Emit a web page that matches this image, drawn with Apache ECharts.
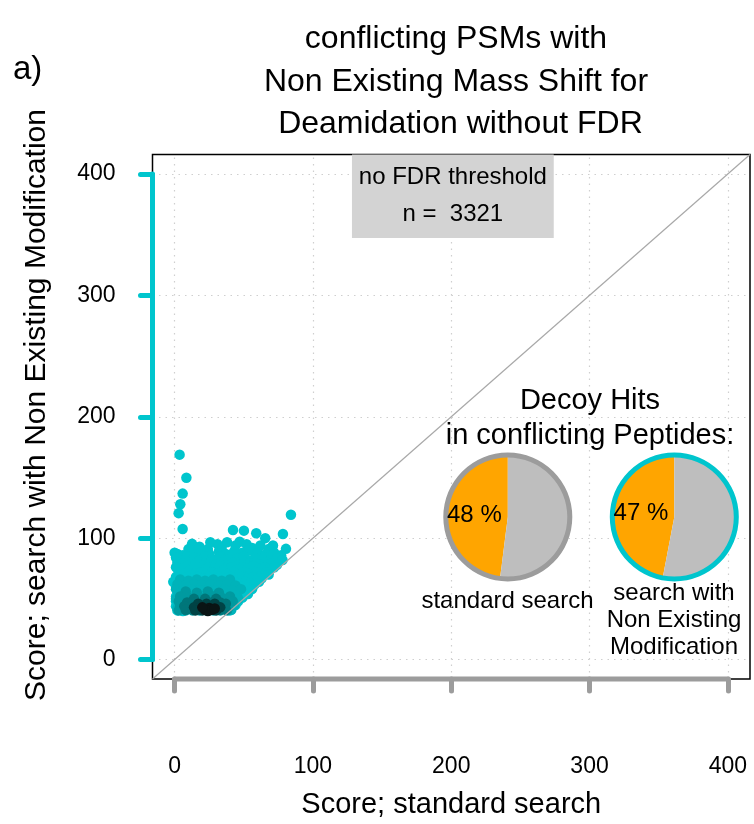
<!DOCTYPE html>
<html>
<head>
<meta charset="utf-8">
<script src="https://cdn.jsdelivr.net/npm/echarts@6/dist/echarts.min.js"></script>
<style>
  html, body { margin: 0; padding: 0; background: #fff; }
  #chart { width: 754px; height: 824px; }
</style>
</head>
<body>
<div id="chart"></div>
<script>
// axis ticks (both axes show 0..400, range padded like R's 4%)
const xTicks = [0, 100, 200, 300, 400];
const yTicks = [0, 100, 200, 300, 400];
const axisMin = -16;
const axisMax = 416;

const psmCount = 3321;
const decoyPctStandard = 48;
const decoyPctModified = 47;

// PSM scores [standard search, search with non existing modification],
// grouped by point density (sparse -> dense)
const psmSparse = [
  [3.6, 168.8], [8.5, 149.8], [5.8, 136.7], [4.1, 128], [2.9, 120.6], [5.8, 107.5],
  [84.1, 119.3], [42.2, 106.7], [50.1, 106.2], [59, 104], [78.3, 103.4], [65.5, 100],
  [71.1, 94], [80.5, 91.2], [12.6, 95.3], [25.8, 96.6], [37.9, 96.6], [31, 95], [47, 97],
  [2, 87], [10, 91], [18, 93], [24, 91], [34, 92], [44, 94], [52, 95], [56, 92], [62, 94], [68, 91],
  [0, 88], [6, 86], [13, 89], [19, 88], [25, 87], [32, 89], [37, 87], [43, 89], [49, 88], [54, 90],
  [60, 88], [66, 87], [72, 88], [77, 86],
  [1, 84], [5, 83], [9, 85], [14, 84], [18, 82], [22, 85], [27, 83], [33, 85], [36, 82], [41, 84],
  [45, 83], [50, 85], [53, 82], [58, 84], [61, 82], [65, 84], [69, 82], [74, 83], [78, 82],
  [2, 80], [6, 79], [10, 80], [14, 78], [18, 80], [22, 79], [26, 80], [30, 78], [34, 80], [38, 79],
  [42, 80], [46, 78], [50, 80], [54, 79], [58, 80], [62, 78], [66, 80], [70, 79], [74, 78],
  [1, 76], [5, 75], [9, 77], [13, 75], [17, 76], [21, 74], [25, 76], [29, 75], [33, 77], [37, 75],
  [41, 76], [45, 74], [49, 76], [53, 75], [57, 77], [61, 75], [65, 76], [69, 75], [72, 76],
  [3, 72], [7, 71], [11, 73], [15, 71], [19, 72], [23, 70], [27, 72], [31, 71], [35, 73], [39, 71],
  [43, 72], [47, 70], [51, 72], [55, 71], [59, 72], [63, 70], [66, 72], [68, 70],
  [1, 68], [5, 67], [9, 68], [13, 66], [17, 68], [21, 67], [25, 68], [29, 66], [33, 68], [37, 67],
  [41, 68], [45, 66], [49, 68], [53, 67], [57, 68], [60, 66], [63, 67], [-1, 64],
  [3, 64], [7, 63], [11, 64], [15, 62], [19, 64], [23, 63], [27, 64], [31, 62], [35, 64], [39, 63],
  [43, 64], [47, 62], [51, 64], [55, 63], [58, 62], [61, 64],
  [1, 60], [5, 59], [9, 60], [13, 58], [17, 60], [21, 59], [25, 60], [29, 58], [33, 60], [37, 59],
  [41, 60], [45, 58], [49, 60], [53, 59], [56, 58],
  [2, 56], [6, 55], [10, 56], [14, 54], [18, 56], [22, 55], [26, 56], [30, 54], [34, 56], [38, 55],
  [42, 56], [46, 54], [50, 55], [53, 54],
  [1, 52], [5, 51], [45, 52], [49, 51], [1, 48], [46, 48], [1, 44], [44, 45], [2, 40.5], [6, 40], [40, 40.5]
];
const psmLow = [
  [4, 66], [10, 65], [16, 66], [22, 65], [28, 66], [34, 65], [40, 66],
  [2, 62], [8, 61], [14, 62], [20, 61], [26, 62], [32, 61], [38, 62], [44, 61],
  [1, 58], [6, 57], [12, 58], [18, 57], [24, 58], [30, 57], [36, 58], [42, 57], [48, 58],
  [3, 54], [9, 53], [15, 54], [21, 53], [27, 54], [33, 53], [39, 54], [45, 53],
  [1, 50], [6, 49], [12, 50], [18, 49], [24, 50], [30, 49], [36, 50], [42, 49], [46, 50],
  [3, 46], [9, 45], [15, 46], [21, 45], [27, 46], [33, 45], [39, 46], [43, 45],
  [2, 42], [8, 41], [14, 42], [20, 41], [26, 42], [32, 41], [38, 42], [41, 41]
];
const psmMid = [
  [8, 56], [16, 55], [24, 56], [32, 55],
  [4, 52], [10, 51], [16, 52], [22, 51], [28, 52], [34, 51], [40, 52],
  [3, 48], [8, 47], [13, 48], [18, 47], [23, 48], [28, 47], [33, 48], [38, 47], [42, 48],
  [4, 44], [9, 43], [14, 44], [19, 43], [24, 44], [29, 43], [34, 44], [39, 43],
  [3, 40.5], [8, 40.5], [13, 40.5], [18, 40.5], [23, 40.5], [28, 40.5], [33, 40.5], [38, 40.5]
];
const psmHigh = [
  [14, 50], [22, 50], [30, 50],
  [9, 47], [15, 47], [21, 47], [27, 47], [33, 47], [37, 46],
  [7, 44], [12, 44], [17, 44], [22, 44], [27, 44], [32, 44], [36, 44],
  [8, 41], [13, 41], [18, 41], [23, 41], [28, 41], [33, 41], [37, 41]
];
const psmVeryHigh = [
  [17, 46], [23, 46], [29, 46],
  [14, 43], [19, 43], [24, 43], [29, 43], [33, 43],
  [15, 40.5], [20, 40.5], [25, 40.5], [30, 40.5]
];
const psmPeak = [
  [22, 41], [25, 42.5], [27, 41], [24, 40], [29, 42], [20, 43]
];

const densityGroups = [
  { data: psmSparse, color: "#00C5CD" },
  { data: psmLow, color: "#00B3BA" },
  { data: psmMid, color: "#009AA0" },
  { data: psmHigh, color: "#00767A" },
  { data: psmVeryHigh, color: "#004345" },
  { data: psmPeak, color: "#0A1414" }
];

const CYAN = "#00C5CD";
const AXIS_GRAY = "#9C9C9C";
const FONT = "Liberation Sans, Arial, Helvetica, sans-serif";

const chart = echarts.init(document.getElementById("chart"), null, { renderer: "canvas" });

function pieSeries(center, pct, ringColor) {
  return [
    {
      type: "pie", silent: true, center: center, radius: [0, 61],
      startAngle: 90, clockwise: false, animation: false,
      labelLine: { show: false },
      data: [
        { value: pct, name: "decoy", itemStyle: { color: "#FFA500" },
          label: { show: true, position: "inside", formatter: "{c} %", color: "#000", fontSize: 24, fontFamily: FONT } },
        { value: 100 - pct, name: "target", itemStyle: { color: "#BEBEBE" }, label: { show: false } }
      ]
    },
    {
      type: "pie", silent: true, center: center, radius: [59.5, 64.5],
      label: { show: false }, labelLine: { show: false }, animation: false,
      data: [{ value: 1, itemStyle: { color: ringColor } }]
    }
  ];
}

const option = {
  animation: false,
  textStyle: { fontFamily: FONT },
  title: {
    text: "conflicting PSMs with\nNon Existing Mass Shift for\n Deamidation without FDR",
    left: 451, top: 13, textAlign: "center",
    textStyle: { fontSize: 32, fontWeight: "normal", color: "#000", lineHeight: 42.5, fontFamily: FONT }
  },
  grid: {
    left: 152.5, top: 154.5, right: 4, bottom: 141,
    show: true, borderColor: "#000", borderWidth: 1.5, backgroundColor: "transparent"
  },
  xAxis: {
    type: "value", min: axisMin, max: axisMax,
    name: "Score; standard search", nameLocation: "middle", nameGap: 111,
    nameTextStyle: { fontSize: 29, color: "#000", fontFamily: FONT },
    axisLine: { show: false, onZero: false },
    axisTick: { show: true, customValues: xTicks, length: 12, lineStyle: { color: AXIS_GRAY, width: 5, cap: "round" } },
    axisLabel: { customValues: xTicks, margin: 76, fontSize: 23, color: "#000", fontFamily: FONT },
    splitLine: { show: false }
  },
  yAxis: {
    type: "value", min: axisMin, max: axisMax,
    axisLine: { show: false, onZero: false },
    axisTick: { show: true, customValues: yTicks, length: 12, lineStyle: { color: CYAN, width: 5, cap: "round" } },
    axisLabel: { customValues: yTicks, margin: 37, fontSize: 23, color: "#000", fontFamily: FONT },
    splitLine: { show: false }
  },
  graphic: [
    { type: "text", left: 13, top: 53, style: { text: "a)", fill: "#000", font: "33px " + FONT } },
    { type: "text", x: 37, y: 405, rotation: Math.PI / 2, style: {
        text: "Score; search with Non Existing Modification", fill: "#000", font: "30px " + FONT,
        align: "center", verticalAlign: "middle" } },
    { type: "text", x: 590, y: 418, style: {
        text: "Decoy Hits\nin conflicting Peptides:", fill: "#000", font: "29px " + FONT,
        align: "center", verticalAlign: "middle", lineHeight: 35 } },
    { type: "text", x: 507.5, y: 601, style: {
        text: "standard search", fill: "#000", font: "24px " + FONT, align: "center", verticalAlign: "middle" } },
    { type: "text", x: 674, y: 620, style: {
        text: "search with\nNon Existing\nModification", fill: "#000", font: "24px " + FONT,
        align: "center", verticalAlign: "middle", lineHeight: 27 } }
  ],
  series: [
    // dotted grid + grey annotation box
    {
      type: "line", data: [], z: 1, silent: true,
      markLine: {
        z: 1, silent: true, symbol: "none", label: { show: false },
        lineStyle: { color: "#CFCFCF", width: 1.2, type: [1.5, 5] },
        data: xTicks.map(v => ({ xAxis: v })).concat(yTicks.map(v => ({ yAxis: v })))
      }
    },
    {
      type: "line", data: [], z: 2, silent: true,
      markArea: {
        z: 2, silent: true,
        itemStyle: { color: "#D3D3D3" },
        label: {
          show: true, position: "inside", color: "#000", fontSize: 24, lineHeight: 37, fontFamily: FONT,
          formatter: "no FDR threshold\nn =  " + psmCount
        },
        data: [[{ coord: [128.2, axisMax] }, { coord: [274.1, 347.2] }]]
      }
    }
  ].concat(densityGroups.map((g, i) => ({
    type: "scatter", data: g.data, z: 3 + i, symbolSize: 10.5, silent: true,
    itemStyle: { color: g.color, opacity: 1 }
  }))).concat([
    // y = x reference line
    {
      type: "line", z: 12, silent: true, symbol: "none", clip: true,
      lineStyle: { color: "#A8A8A8", width: 1.2 },
      data: [[axisMin, axisMin], [axisMax, axisMax]]
    },
    // coloured axis bars spanning the tick range
    {
      type: "line", z: 13, silent: true, symbol: "none", clip: false,
      lineStyle: { color: CYAN, width: 5, cap: "round" },
      data: [[axisMin, yTicks[0]], [axisMin, yTicks[yTicks.length - 1]]]
    },
    {
      type: "line", z: 13, silent: true, symbol: "none", clip: false,
      lineStyle: { color: AXIS_GRAY, width: 5, cap: "round" },
      data: [[xTicks[0], axisMin], [xTicks[xTicks.length - 1], axisMin]]
    }
  ]).concat(pieSeries([507.8, 517], decoyPctStandard, "#9C9C9C"))
    .concat(pieSeries([674.3, 517], decoyPctModified, CYAN))
};

chart.setOption(option);
</script>
</body>
</html>
